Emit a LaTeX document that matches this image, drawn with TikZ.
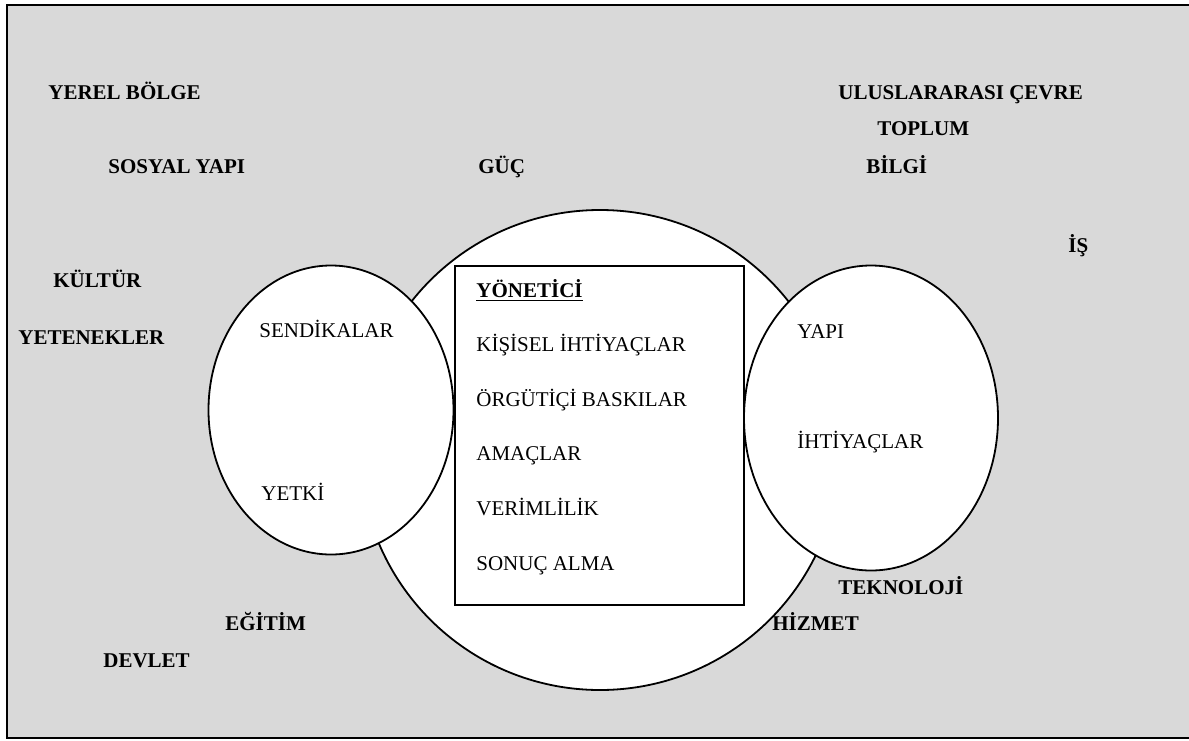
\documentclass[tikz,border=0pt]{standalone}
\usepackage{fontspec}
\setmainfont{Liberation Serif}
\usetikzlibrary{shapes.geometric}
\definecolor{panelgray}{HTML}{D9D9D9}
\begin{document}
\begin{tikzpicture}[x=0.5pt, y=-0.5pt,
	every node/.style = {inner sep=0pt, anchor=base west, font=\fontsize{10.5pt}{12pt}\selectfont},
	outer/.style = {font=\fontsize{10.5pt}{12pt}\selectfont\bfseries},
	blob/.style = {draw, fill=white, line width=0.9pt, anchor=center}]
	
	\useasboundingbox (0,0) rectangle (1189,740);
	\fill[panelgray] (7,5) rectangle (1195,738);
	\draw[line width=1.4pt] (1195,5) -- (7,5) -- (7,738) -- (1195,738);
	
	% shapes
	\node (manager) [blob, circle, minimum size=240pt] at (600,450) {};
	\node (unions) [blob, ellipse, minimum width=122.5pt, minimum height=144.5pt] at (331,410) {};
	\node (frame) [blob, ellipse, minimum width=127pt, minimum height=152.5pt] at (871,418) {};
	\node (core) [blob, rectangle, minimum width=144.5pt, minimum height=169.5pt] at (599.5,435.5) {};
	
	% environment
	\node (local) [outer] at (48,99) {YEREL BÖLGE};
	\node (intl) [outer] at (838,99) {ULUSLARARASI ÇEVRE};
	\node (society) [outer] at (877,135) {TOPLUM};
	\node (social) [outer] at (108,173) {SOSYAL YAPI};
	\node (power) [outer] at (478,173) {GÜÇ};
	\node (info) [outer] at (866,173) {BİLGİ};
	\node (work) [outer] at (1068,252) {İŞ};
	\node (culture) [outer] at (53,287) {KÜLTÜR};
	\node (skills) [outer] at (18,344) {YETENEKLER};
	\node (tech) [outer] at (838,594) {TEKNOLOJİ};
	\node (edu) [outer] at (225,630) {EĞİTİM};
	\node (service) [outer] at (772,630) {HİZMET};
	\node (state) [outer] at (103,667) {DEVLET};
	
	% ellipses
	\node (sendika) at (259,337) {SENDİKALAR};
	\node (yetki) at (261,500) {YETKİ};
	\node (yapi) at (797,338) {YAPI};
	\node (needs) at (797,448) {İHTİYAÇLAR};
	
	% box
	\node (head) [outer] at (476,297) {\underline{YÖNETİCİ}};
	\node (l1) at (476,351) {KİŞİSEL İHTİYAÇLAR};
	\node (l2) at (476,406) {ÖRGÜTİÇİ BASKILAR};
	\node (l3) at (476,460) {AMAÇLAR};
	\node (l4) at (476,515) {VERİMLİLİK};
	\node (l5) at (476,570) {SONUÇ ALMA};
\end{tikzpicture}
\end{document}
